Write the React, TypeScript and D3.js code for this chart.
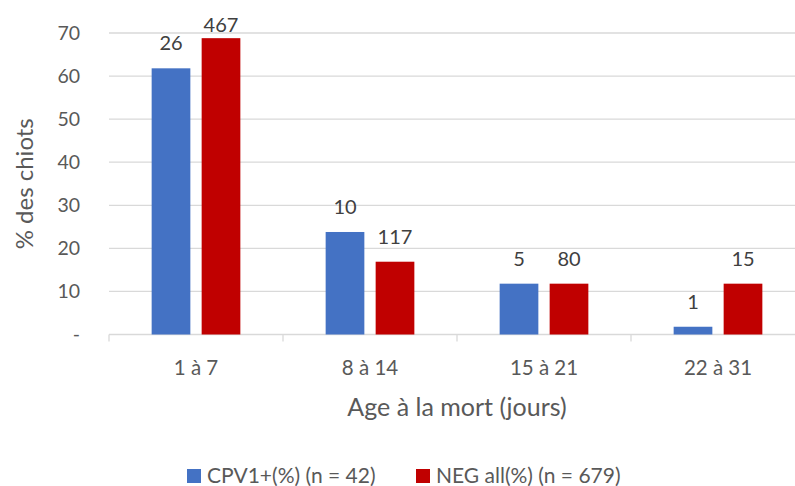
import React from 'react';
import * as d3 from 'd3';

const width = 795;
const height = 486;
const margin = {top: 33, right: -10, bottom: 152, left: 109};
const blue = '#4472c4';
const red = '#c00000';
const textColor = '#595959';
const gridColor = '#d9d9d9';
const font = 'Lato, "Open Sans", sans-serif';

const categories = ['1 à 7', '8 à 14', '15 à 21', '22 à 31'];
const seriesNames = ['CPV1+(%) (n = 42)', 'NEG all(%) (n = 679)'];
const cpvValues = [61.8, 23.8, 11.8, 1.8];
const negValues = [68.8, 16.9, 11.8, 11.8];
const cpvCounts = [26, 10, 5, 1];
const negCounts = [467, 117, 80, 15];
const yTicks = [0, 10, 20, 30, 40, 50, 60, 70];

const App: React.FC = () => {
  const xScale = d3.scaleBand<string>()
    .domain(categories)
    .range([margin.left, width - margin.right])
    .padding(0);

  const innerScale = d3.scaleBand<number>()
    .domain([0, 1])
    .range([0, xScale.bandwidth()])
    .paddingInner(0.226)
    .paddingOuter(0.853);

  const yScale = d3.scaleLinear()
    .domain([0, 70])
    .range([334.5, margin.top]);

  const series = [
    {values: cpvValues, counts: cpvCounts, color: blue},
    {values: negValues, counts: negCounts, color: red},
  ];

  const tickXs = [...categories.map(c => xScale(c) as number), width - margin.right];
  const plotCenter = (margin.left + width - margin.right) / 2;

  return (
    <svg width={width} height={height} style={{position: 'absolute', left: 0, top: 0, background: '#fff'}}
      fontFamily={font}>
      {yTicks.map(t => (
        <g key={t}>
          <line x1={margin.left} x2={width} y1={yScale(t)} y2={yScale(t)} stroke={gridColor} strokeWidth={1.3} />
          <text x={80} y={yScale(t)} dy='0.35em' textAnchor='end' fontSize={19.5} fill={textColor}>
            {t === 0 ? '-' : t}
          </text>
        </g>
      ))}
      {tickXs.map((x, i) => (
        <line key={i} x1={x} x2={x} y1={yScale(0)} y2={yScale(0) + 7} stroke={gridColor} strokeWidth={1.3} />
      ))}
      {series.map((s, si) => (
        <g key={si}>
          {categories.map((c, ci) => {
            const x = (xScale(c) as number) + (innerScale(si) as number);
            const y = yScale(s.values[ci]);
            return (
              <g key={c}>
                <rect x={x} y={y} width={innerScale.bandwidth()} height={yScale(0) - y} fill={s.color} />
                <text x={x + innerScale.bandwidth() / 2} y={Math.max(y - 18, 32)} textAnchor='middle'
                  fontSize={20} fill='#404040'>{s.counts[ci]}</text>
              </g>
            );
          })}
        </g>
      ))}
      {categories.map(c => (
        <text key={c} x={(xScale(c) as number) + xScale.bandwidth() / 2} y={368} dy='0.35em'
          textAnchor='middle' fontSize={20.5} fill={textColor}>{c}</text>
      ))}
      <text x={plotCenter} y={407} dy='0.35em' textAnchor='middle' fontSize={25} fill={textColor}>
        Age à la mort (jours)
      </text>
      <text transform={`translate(25, ${(yScale(0) + yScale(70)) / 2}) rotate(-90)`} dy='0.35em'
        textAnchor='middle' fontSize={24} fill={textColor}>% des chiots</text>
      {seriesNames.map((name, i) => {
        const lx = i === 0 ? 187 : 416;
        return (
          <g key={name} transform={`translate(${lx}, 476)`}>
            <rect x={0} y={-7} width={14} height={14} fill={series[i].color} />
            <text x={20} y={0} dy='0.35em' fontSize={21} fill={textColor}>{name}</text>
          </g>
        );
      })}
    </svg>
  );
};

export default App;
